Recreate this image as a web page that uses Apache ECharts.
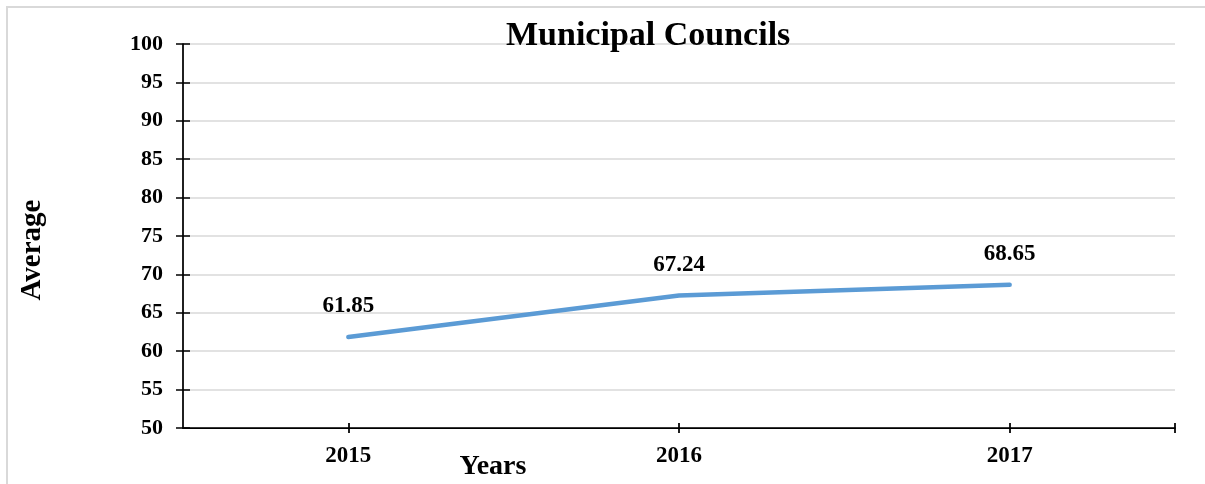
<!DOCTYPE html>
<html>
<head>
<meta charset="utf-8">
<title>Municipal Councils</title>
<script src="https://cdn.jsdelivr.net/npm/echarts@6/dist/echarts.min.js"></script>
<style>
  html, body { margin: 0; padding: 0; background: #fff; }
  #chart { width: 1205px; height: 484px; }
</style>
</head>
<body>
<div id="chart"></div>
<script>
// Average score of municipal councils per year
const years = [2015, 2016, 2017];
const averages = [61.85, 67.24, 68.65];
const yTicks = [50, 55, 60, 65, 70, 75, 80, 85, 90, 95, 100];

const FONT = '"Liberation Serif", "Times New Roman", serif';
const AXIS_COLOR = '#000';

const chart = echarts.init(document.getElementById('chart'), null, { renderer: 'canvas' });

const xMin = years[0] - 0.5;
const xMax = years[years.length - 1] + 0.5;
const xTickValues = years.concat([xMax]);

function xAxisBase(inside) {
  return {
    type: 'value',
    min: xMin,
    max: xMax,
    position: 'bottom',
    splitLine: { show: false },
    axisLine: { show: !inside, lineStyle: { color: AXIS_COLOR, width: 1.75 } },
    axisTick: {
      show: true, inside: inside, length: 5, customValues: xTickValues,
      lineStyle: { color: AXIS_COLOR, width: 1.75 }
    },
    axisLabel: inside ? { show: false } : {
      show: true, customValues: years, margin: 17,
      formatter: v => String(v),
      fontFamily: FONT, fontWeight: 'bold', fontSize: 23, color: '#000'
    }
  };
}

function yAxisBase(inside) {
  return {
    type: 'value',
    min: yTicks[0],
    max: yTicks[yTicks.length - 1],
    interval: 5,
    position: 'left',
    axisLine: { show: !inside, lineStyle: { color: AXIS_COLOR, width: 1.75 } },
    axisTick: { show: true, inside: inside, length: 7, lineStyle: { color: AXIS_COLOR, width: 1.5 } },
    splitLine: inside ? { show: false } : { show: true, lineStyle: { color: '#d9d9d9', width: 1.5 } },
    axisLabel: inside ? { show: false } : {
      show: true, margin: 20,
      fontFamily: FONT, fontWeight: 'bold', fontSize: 22, color: '#000'
    }
  };
}

const option = {
  backgroundColor: '#fff',
  animation: false,
  grid: { left: 183, right: 30, top: 44, bottom: 56 },
  xAxis: [xAxisBase(false), xAxisBase(true)],
  yAxis: [yAxisBase(false), yAxisBase(true)],
  graphic: [
    {
      type: 'rect', silent: true, z: -1,
      shape: { x: 7, y: 7, width: 1210, height: 490 },
      style: { fill: 'none', stroke: '#d9d9d9', lineWidth: 2 }
    },
    {
      type: 'text', left: 506, top: 19, z: 10,
      style: {
        text: 'Municipal Councils', fill: '#000',
        font: 'bold 34px ' + FONT
      }
    },
    {
      type: 'text', x: 493, y: 467, z: 10,
      style: {
        text: 'Years', fill: '#000', align: 'center', verticalAlign: 'middle',
        font: 'bold 28px ' + FONT
      }
    },
    {
      type: 'text', x: 33, y: 250, rotation: Math.PI / 2, z: 10,
      style: {
        text: 'Average', fill: '#000', align: 'center', verticalAlign: 'middle',
        font: 'bold 29px ' + FONT
      }
    }
  ],
  series: [{
    type: 'line',
    xAxisIndex: 0,
    yAxisIndex: 0,
    data: years.map((y, i) => [y, averages[i]]),
    symbol: 'circle',
    symbolSize: 1,
    itemStyle: { color: 'rgba(0,0,0,0)' },
    lineStyle: { color: '#5b9bd5', width: 4.5, cap: 'round' },
    label: {
      show: true, position: 'top', distance: 19,
      formatter: p => p.value[1].toFixed(2),
      fontFamily: FONT, fontWeight: 'bold', fontSize: 23, color: '#000'
    },
    emphasis: { disabled: true }
  }]
};

chart.setOption(option);
</script>
</body>
</html>
